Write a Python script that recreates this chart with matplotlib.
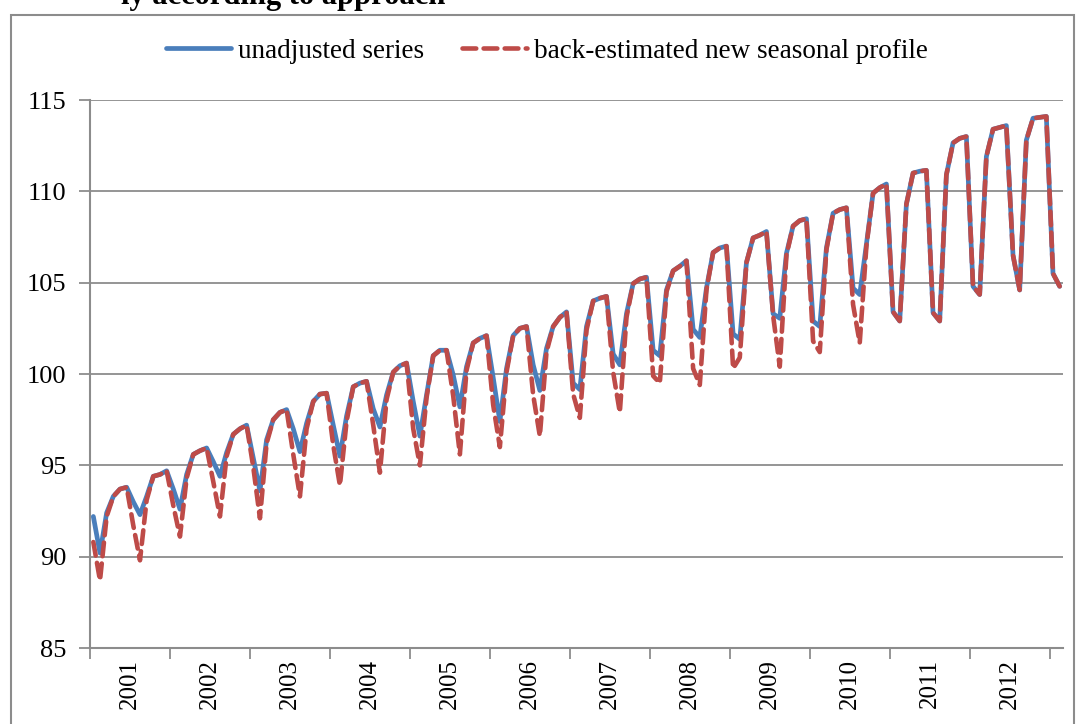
import matplotlib
matplotlib.use("Agg")
import matplotlib.pyplot as plt
import numpy as np

years = ["2001", "2002", "2003", "2004", "2005", "2006",
         "2007", "2008", "2009", "2010", "2011", "2012"]

# monthly values, one row per year (last row runs into 2013)
unadjusted = [
    92.2, 90.2, 92.4, 93.3, 93.7, 93.8, 93.0, 92.3, 93.3, 94.4, 94.5, 94.7,
    93.7, 92.6, 94.5, 95.6, 95.8, 95.95, 95.2, 94.4, 95.7, 96.7, 97.0, 97.2,
    95.4, 93.6, 96.4, 97.5, 97.9, 98.05, 97.0, 95.75, 97.3, 98.5, 98.9, 98.95,
    97.2, 95.5, 97.7, 99.3, 99.5, 99.6, 98.1, 97.1, 98.85, 100.1, 100.45, 100.6,
    98.5, 96.6, 98.85, 101.0, 101.3, 101.3, 99.95, 98.2, 100.4, 101.7, 101.95, 102.1,
    99.8, 97.4, 100.3, 102.1, 102.5, 102.6, 100.5, 99.1, 101.4, 102.6, 103.1, 103.4,
    99.5, 99.15, 102.6, 104.0, 104.15, 104.25, 101.1, 100.5, 103.3, 104.95, 105.2, 105.3,
    101.3, 101.0, 104.6, 105.65, 105.9, 106.2, 102.45, 102.0, 104.7, 106.65, 106.9, 107.0,
    102.2, 101.9, 106.1, 107.45, 107.6, 107.8, 103.3, 103.05, 106.6, 108.1, 108.4, 108.5,
    102.9, 102.6, 106.9, 108.8, 109.0, 109.1, 104.7, 104.35, 107.1, 109.9, 110.2, 110.4,
    103.4, 102.9, 109.3, 111.0, 111.1, 111.15, 103.35, 102.9, 110.9, 112.65, 112.9, 113.0,
    104.8, 104.35, 111.9, 113.4, 113.5, 113.6, 106.5, 104.6, 112.8, 114.0, 114.05, 114.1,
    105.5, 104.8,
]

back_estimated = [
    90.8, 88.7, 92.2, 93.3, 93.7, 93.8, 91.7, 89.8, 93.1, 94.4, 94.5, 94.7,
    92.8, 91.1, 94.3, 95.6, 95.8, 95.95, 94.1, 92.2, 95.5, 96.7, 97.0, 97.2,
    94.9, 92.1, 96.2, 97.5, 97.9, 98.05, 95.6, 93.3, 97.0, 98.5, 98.9, 98.95,
    96.1, 93.9, 97.4, 99.3, 99.5, 99.6, 97.2, 94.6, 98.6, 100.1, 100.45, 100.6,
    97.0, 95.0, 98.7, 101.0, 101.3, 101.3, 98.8, 95.6, 100.2, 101.7, 101.95, 102.1,
    98.3, 96.0, 100.1, 102.1, 102.5, 102.6, 98.85, 96.6, 101.2, 102.6, 103.1, 103.4,
    98.9, 97.6, 102.4, 104.0, 104.15, 104.25, 100.1, 97.9, 103.1, 104.95, 105.2, 105.3,
    99.9, 99.5, 104.5, 105.65, 105.9, 106.2, 100.3, 99.4, 104.6, 106.65, 106.9, 107.0,
    100.3, 100.9, 106.1, 107.45, 107.6, 107.8, 103.2, 100.4, 106.5, 108.1, 108.4, 108.5,
    101.8, 101.2, 106.8, 108.8, 109.0, 109.1, 103.8, 101.7, 107.0, 109.9, 110.2, 110.4,
    103.4, 102.9, 109.3, 111.0, 111.1, 111.15, 103.35, 102.9, 110.9, 112.65, 112.9, 113.0,
    104.8, 104.35, 111.9, 113.4, 113.5, 113.6, 106.5, 104.6, 112.8, 114.0, 114.05, 114.1,
    105.5, 104.8,
]

plt.rcParams['font.family'] = ['Liberation Serif', 'DejaVu Serif']

fig = plt.figure(figsize=(10.77, 7.24), dpi=100)
ax = fig.add_axes([90 / 1077, 1 - 648 / 724, 973 / 1077, 548 / 724])

n = len(unadjusted)
t = np.arange(n) + 0.5
ax.plot(t, unadjusted, color='#4A7EBB', lw=3.4, label='unadjusted series',
        solid_joinstyle='round', solid_capstyle='round', zorder=3)
ax.plot(t, back_estimated, color='#BE4B48', lw=3.3, dashes=(3, 1.6),
        dash_capstyle='round', label='back-estimated new seasonal profile', zorder=4)

ax.set_xlim(0, n)
ax.set_ylim(85, 115)
ax.set_yticks(np.arange(85, 116, 5))
ax.grid(axis='y', color='#8C8C8C', lw=1.3)
ax.set_axisbelow(True)

ax.set_xticks(np.arange(0, n, 12))
ax.set_xticklabels([])
ax.set_xticks(np.arange(6, 12 * len(years), 12), minor=True)
ax.set_xticklabels(years, minor=True, rotation=90, fontsize=18)
ax.tick_params(axis='x', which='major', length=8, width=1.3, color='#8C8C8C', direction='out')
ax.tick_params(axis='x', which='minor', length=0, pad=8)
ax.tick_params(axis='y', length=8, width=1.3, color='#8C8C8C', labelsize=19, pad=9)

for s in ['top', 'right']:
    ax.spines[s].set_visible(False)
for s in ['left', 'bottom']:
    ax.spines[s].set_color('#8C8C8C')
    ax.spines[s].set_linewidth(1.5)

fig.legend(loc='center', bbox_to_anchor=(0.508, 1 - 51 / 724), ncol=2, frameon=False,
           fontsize=19.5, handlelength=2.4, columnspacing=1.4, handletextpad=0.25)

# outer chart border
fig.add_artist(plt.Rectangle((11 / 1077, -0.01), 1063 / 1077, 1 - 15 / 724 + 0.01,
                             transform=fig.transFigure, fill=False,
                             edgecolor='#8C8C8C', lw=1.5))

# title sits above the crop, only its lower edge shows
fig.text(445 / 1077, 1 - 4 / 724, 'ly according to approach',
         fontsize=22, weight='bold', va='baseline', ha='right')

fig.savefig('out.png', dpi=100)
